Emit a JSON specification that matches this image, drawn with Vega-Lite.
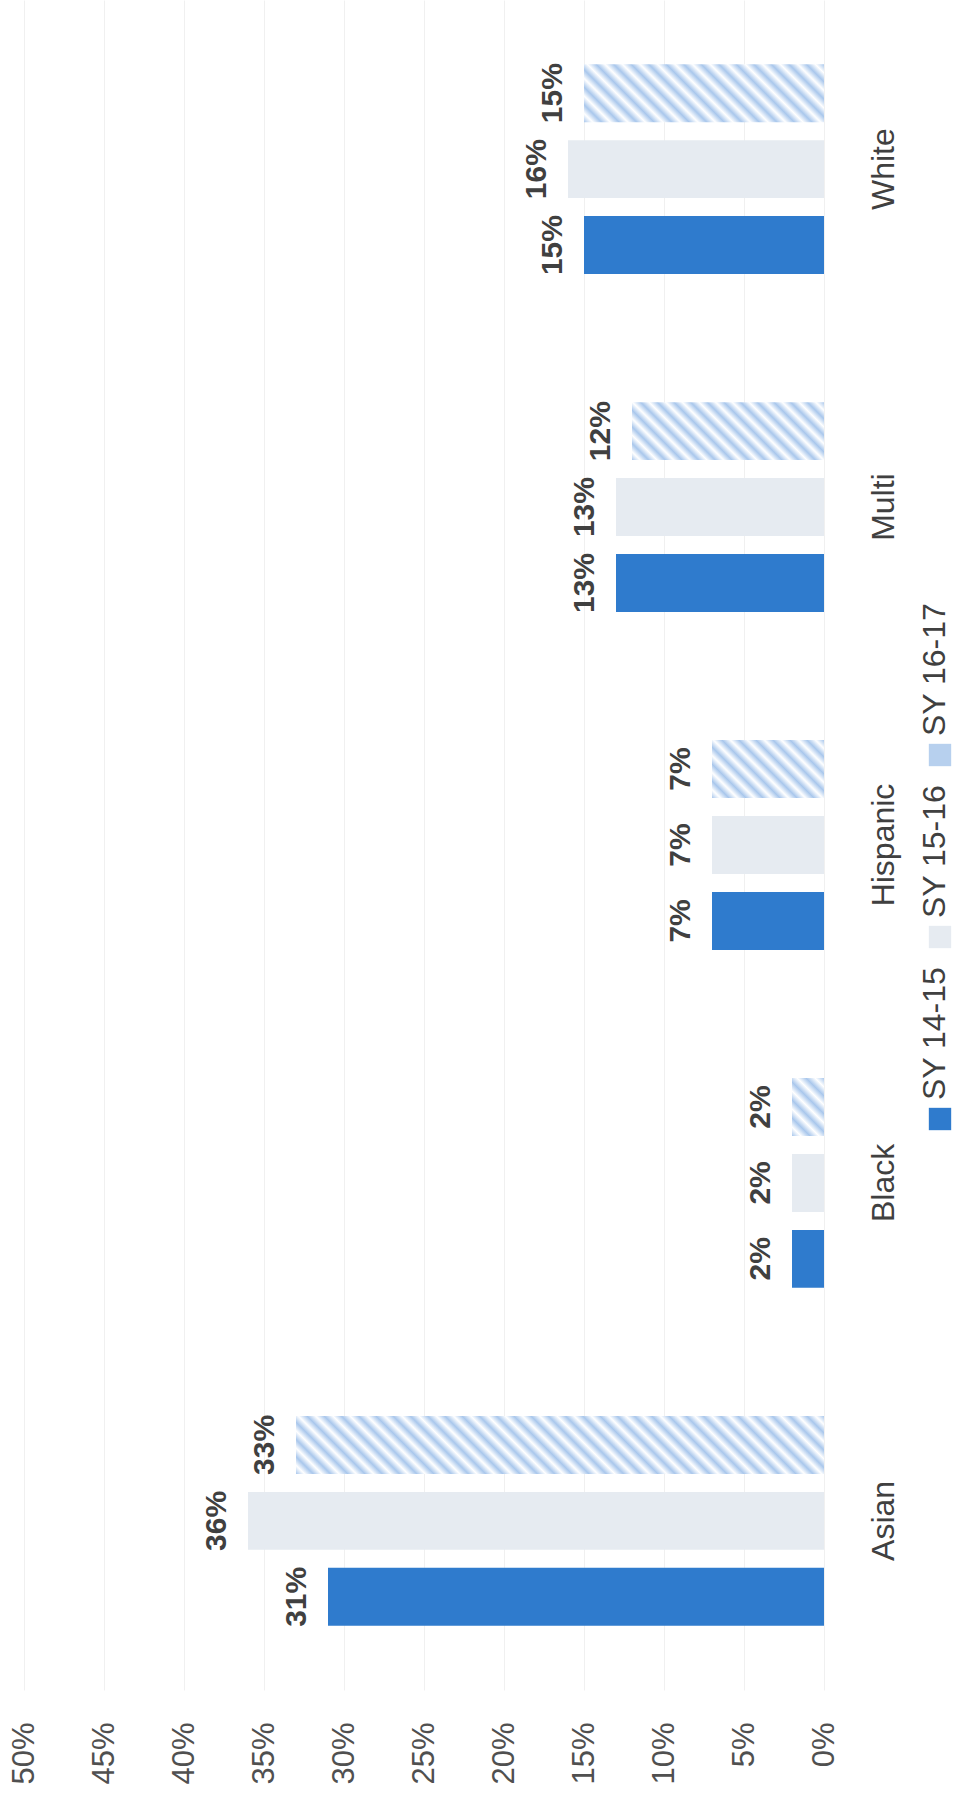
{
  "$schema": "https://vega.github.io/schema/vega-lite/v6.json",
  "width": 800,
  "height": 1690,
  "autosize": "none",
  "padding": {"left": 24, "top": 0, "right": 140, "bottom": 117},
  "background": "white",
  "config": {"view": {"stroke": null}, "font": "Liberation Sans"},
  "data": {
    "values": [
      {"group": "Asian", "series": "SY 14-15", "value": 0.31},
      {"group": "Asian", "series": "SY 15-16", "value": 0.36},
      {"group": "Asian", "series": "SY 16-17", "value": 0.33},
      {"group": "Black", "series": "SY 14-15", "value": 0.02},
      {"group": "Black", "series": "SY 15-16", "value": 0.02},
      {"group": "Black", "series": "SY 16-17", "value": 0.02},
      {"group": "Hispanic", "series": "SY 14-15", "value": 0.07},
      {"group": "Hispanic", "series": "SY 15-16", "value": 0.07},
      {"group": "Hispanic", "series": "SY 16-17", "value": 0.07},
      {"group": "Multi", "series": "SY 14-15", "value": 0.13},
      {"group": "Multi", "series": "SY 15-16", "value": 0.13},
      {"group": "Multi", "series": "SY 16-17", "value": 0.12},
      {"group": "White", "series": "SY 14-15", "value": 0.15},
      {"group": "White", "series": "SY 15-16", "value": 0.16},
      {"group": "White", "series": "SY 16-17", "value": 0.15}
    ]
  },
  "encoding": {
    "y": {
      "field": "group",
      "type": "nominal",
      "sort": ["White", "Multi", "Hispanic", "Black", "Asian"],
      "scale": {"paddingInner": 0.379, "paddingOuter": 0.19},
      "axis": {
        "orient": "right",
        "title": null,
        "domain": false,
        "ticks": false,
        "tickSize": 0,
        "grid": false,
        "labelAngle": 270,
        "labelAlign": "center",
        "labelBaseline": "alphabetic",
        "labelPadding": 69,
        "labelFont": "Liberation Sans",
        "labelFontSize": 32,
        "labelColor": "#404040"
      }
    },
    "yOffset": {
      "field": "series",
      "type": "nominal",
      "sort": ["SY 16-17", "SY 15-16", "SY 14-15"],
      "scale": {"paddingInner": 0.237, "paddingOuter": 0}
    },
    "x": {
      "field": "value",
      "type": "quantitative",
      "scale": {"domain": [0, 0.5], "reverse": true},
      "axis": {
        "title": null,
        "values": [0, 0.05, 0.1, 0.15, 0.2, 0.25, 0.3, 0.35, 0.4, 0.45, 0.5],
        "format": ".0%",
        "domain": false,
        "ticks": false,
        "tickSize": 0,
        "grid": true,
        "gridColor": "#F0F0F0",
        "gridWidth": 1,
        "labelAngle": 270,
        "labelAlign": "right",
        "labelBaseline": "middle",
        "labelPadding": 32,
        "labelFont": "Liberation Sans",
        "labelFontSize": 31,
        "labelColor": "#505050"
      }
    }
  },
  "layer": [
    {
      "mark": {"type": "bar"},
      "encoding": {
        "fill": {
          "field": "series",
          "type": "nominal",
          "scale": {
            "domain": ["SY 16-17", "SY 15-16", "SY 14-15"],
            "range": ["#B7D0EE", "#E6EBF1", "#2F7BCD"]
          },
          "legend": {
            "orient": "none",
            "legendX": 900,
            "legendY": 739,
            "direction": "vertical",
            "title": null,
            "symbolType": "square",
            "symbolSize": 500,
            "symbolStrokeWidth": 0,
            "labelFont": "Liberation Sans",
            "labelFontSize": 32,
            "labelColor": "#404040",
            "labelOffset": 0,
            "labelLimit": 0,
            "rowPadding": 17,
            "encode": {
              "labels": {
                "update": {
                  "angle": {"value": 270},
                  "align": {"value": "left"},
                  "baseline": {"value": "middle"},
                  "dx": {"value": 19},
                  "dy": {"value": -21}
                }
              }
            }
          },
          "condition": [
            {
              "test": "datum.series === 'SY 16-17' && datum.group === 'Asian'",
              "value": {
                "gradient": "linear", "x1": 0, "y1": 1, "x2": 1.0967, "y2": 0.8795,
                "stops": [
                  {"offset": 0, "color": "#A9C7EC"}, {"offset": 0.0147, "color": "#FFFFFF"},
                  {"offset": 0.0294, "color": "#A9C7EC"}, {"offset": 0.0441, "color": "#FFFFFF"},
                  {"offset": 0.0588, "color": "#A9C7EC"}, {"offset": 0.0735, "color": "#FFFFFF"},
                  {"offset": 0.0882, "color": "#A9C7EC"}, {"offset": 0.1029, "color": "#FFFFFF"},
                  {"offset": 0.1176, "color": "#A9C7EC"}, {"offset": 0.1324, "color": "#FFFFFF"},
                  {"offset": 0.1471, "color": "#A9C7EC"}, {"offset": 0.1618, "color": "#FFFFFF"},
                  {"offset": 0.1765, "color": "#A9C7EC"}, {"offset": 0.1912, "color": "#FFFFFF"},
                  {"offset": 0.2059, "color": "#A9C7EC"}, {"offset": 0.2206, "color": "#FFFFFF"},
                  {"offset": 0.2353, "color": "#A9C7EC"}, {"offset": 0.25, "color": "#FFFFFF"},
                  {"offset": 0.2647, "color": "#A9C7EC"}, {"offset": 0.2794, "color": "#FFFFFF"},
                  {"offset": 0.2941, "color": "#A9C7EC"}, {"offset": 0.3088, "color": "#FFFFFF"},
                  {"offset": 0.3235, "color": "#A9C7EC"}, {"offset": 0.3382, "color": "#FFFFFF"},
                  {"offset": 0.3529, "color": "#A9C7EC"}, {"offset": 0.3676, "color": "#FFFFFF"},
                  {"offset": 0.3824, "color": "#A9C7EC"}, {"offset": 0.3971, "color": "#FFFFFF"},
                  {"offset": 0.4118, "color": "#A9C7EC"}, {"offset": 0.4265, "color": "#FFFFFF"},
                  {"offset": 0.4412, "color": "#A9C7EC"}, {"offset": 0.4559, "color": "#FFFFFF"},
                  {"offset": 0.4706, "color": "#A9C7EC"}, {"offset": 0.4853, "color": "#FFFFFF"},
                  {"offset": 0.5, "color": "#A9C7EC"}, {"offset": 0.5147, "color": "#FFFFFF"},
                  {"offset": 0.5294, "color": "#A9C7EC"}, {"offset": 0.5441, "color": "#FFFFFF"},
                  {"offset": 0.5588, "color": "#A9C7EC"}, {"offset": 0.5735, "color": "#FFFFFF"},
                  {"offset": 0.5882, "color": "#A9C7EC"}, {"offset": 0.6029, "color": "#FFFFFF"},
                  {"offset": 0.6176, "color": "#A9C7EC"}, {"offset": 0.6324, "color": "#FFFFFF"},
                  {"offset": 0.6471, "color": "#A9C7EC"}, {"offset": 0.6618, "color": "#FFFFFF"},
                  {"offset": 0.6765, "color": "#A9C7EC"}, {"offset": 0.6912, "color": "#FFFFFF"},
                  {"offset": 0.7059, "color": "#A9C7EC"}, {"offset": 0.7206, "color": "#FFFFFF"},
                  {"offset": 0.7353, "color": "#A9C7EC"}, {"offset": 0.75, "color": "#FFFFFF"},
                  {"offset": 0.7647, "color": "#A9C7EC"}, {"offset": 0.7794, "color": "#FFFFFF"},
                  {"offset": 0.7941, "color": "#A9C7EC"}, {"offset": 0.8088, "color": "#FFFFFF"},
                  {"offset": 0.8235, "color": "#A9C7EC"}, {"offset": 0.8382, "color": "#FFFFFF"},
                  {"offset": 0.8529, "color": "#A9C7EC"}, {"offset": 0.8676, "color": "#FFFFFF"},
                  {"offset": 0.8824, "color": "#A9C7EC"}, {"offset": 0.8971, "color": "#FFFFFF"},
                  {"offset": 0.9118, "color": "#A9C7EC"}, {"offset": 0.9265, "color": "#FFFFFF"},
                  {"offset": 0.9412, "color": "#A9C7EC"}, {"offset": 0.9559, "color": "#FFFFFF"},
                  {"offset": 0.9706, "color": "#A9C7EC"}, {"offset": 0.9853, "color": "#FFFFFF"},
                  {"offset": 1, "color": "#A9C7EC"}
                ]
              }
            },
            {
              "test": "datum.series === 'SY 16-17' && datum.group === 'White'",
              "value": {
                "gradient": "linear", "x1": 0, "y1": 1, "x2": 1.173, "y2": 0.7166,
                "stops": [
                  {"offset": 0, "color": "#A9C7EC"}, {"offset": 0.0294, "color": "#FFFFFF"},
                  {"offset": 0.0588, "color": "#A9C7EC"}, {"offset": 0.0882, "color": "#FFFFFF"},
                  {"offset": 0.1176, "color": "#A9C7EC"}, {"offset": 0.1471, "color": "#FFFFFF"},
                  {"offset": 0.1765, "color": "#A9C7EC"}, {"offset": 0.2059, "color": "#FFFFFF"},
                  {"offset": 0.2353, "color": "#A9C7EC"}, {"offset": 0.2647, "color": "#FFFFFF"},
                  {"offset": 0.2941, "color": "#A9C7EC"}, {"offset": 0.3235, "color": "#FFFFFF"},
                  {"offset": 0.3529, "color": "#A9C7EC"}, {"offset": 0.3824, "color": "#FFFFFF"},
                  {"offset": 0.4118, "color": "#A9C7EC"}, {"offset": 0.4412, "color": "#FFFFFF"},
                  {"offset": 0.4706, "color": "#A9C7EC"}, {"offset": 0.5, "color": "#FFFFFF"},
                  {"offset": 0.5294, "color": "#A9C7EC"}, {"offset": 0.5588, "color": "#FFFFFF"},
                  {"offset": 0.5882, "color": "#A9C7EC"}, {"offset": 0.6176, "color": "#FFFFFF"},
                  {"offset": 0.6471, "color": "#A9C7EC"}, {"offset": 0.6765, "color": "#FFFFFF"},
                  {"offset": 0.7059, "color": "#A9C7EC"}, {"offset": 0.7353, "color": "#FFFFFF"},
                  {"offset": 0.7647, "color": "#A9C7EC"}, {"offset": 0.7941, "color": "#FFFFFF"},
                  {"offset": 0.8235, "color": "#A9C7EC"}, {"offset": 0.8529, "color": "#FFFFFF"},
                  {"offset": 0.8824, "color": "#A9C7EC"}, {"offset": 0.9118, "color": "#FFFFFF"},
                  {"offset": 0.9412, "color": "#A9C7EC"}, {"offset": 0.9706, "color": "#FFFFFF"},
                  {"offset": 1, "color": "#A9C7EC"}
                ]
              }
            },
            {
              "test": "datum.series === 'SY 16-17' && datum.group === 'Multi'",
              "value": {
                "gradient": "linear", "x1": 0, "y1": 1, "x2": 1.1933, "y2": 0.6395,
                "stops": [
                  {"offset": 0, "color": "#A9C7EC"}, {"offset": 0.0333, "color": "#FFFFFF"},
                  {"offset": 0.0667, "color": "#A9C7EC"}, {"offset": 0.1, "color": "#FFFFFF"},
                  {"offset": 0.1333, "color": "#A9C7EC"}, {"offset": 0.1667, "color": "#FFFFFF"},
                  {"offset": 0.2, "color": "#A9C7EC"}, {"offset": 0.2333, "color": "#FFFFFF"},
                  {"offset": 0.2667, "color": "#A9C7EC"}, {"offset": 0.3, "color": "#FFFFFF"},
                  {"offset": 0.3333, "color": "#A9C7EC"}, {"offset": 0.3667, "color": "#FFFFFF"},
                  {"offset": 0.4, "color": "#A9C7EC"}, {"offset": 0.4333, "color": "#FFFFFF"},
                  {"offset": 0.4667, "color": "#A9C7EC"}, {"offset": 0.5, "color": "#FFFFFF"},
                  {"offset": 0.5333, "color": "#A9C7EC"}, {"offset": 0.5667, "color": "#FFFFFF"},
                  {"offset": 0.6, "color": "#A9C7EC"}, {"offset": 0.6333, "color": "#FFFFFF"},
                  {"offset": 0.6667, "color": "#A9C7EC"}, {"offset": 0.7, "color": "#FFFFFF"},
                  {"offset": 0.7333, "color": "#A9C7EC"}, {"offset": 0.7667, "color": "#FFFFFF"},
                  {"offset": 0.8, "color": "#A9C7EC"}, {"offset": 0.8333, "color": "#FFFFFF"},
                  {"offset": 0.8667, "color": "#A9C7EC"}, {"offset": 0.9, "color": "#FFFFFF"},
                  {"offset": 0.9333, "color": "#A9C7EC"}, {"offset": 0.9667, "color": "#FFFFFF"},
                  {"offset": 1, "color": "#A9C7EC"}
                ]
              }
            },
            {
              "test": "datum.series === 'SY 16-17' && datum.group === 'Hispanic'",
              "value": {
                "gradient": "linear", "x1": 0, "y1": 1, "x2": 1.197, "y2": 0.3801,
                "stops": [
                  {"offset": 0, "color": "#A9C7EC"}, {"offset": 0.05, "color": "#FFFFFF"},
                  {"offset": 0.1, "color": "#A9C7EC"}, {"offset": 0.15, "color": "#FFFFFF"},
                  {"offset": 0.2, "color": "#A9C7EC"}, {"offset": 0.25, "color": "#FFFFFF"},
                  {"offset": 0.3, "color": "#A9C7EC"}, {"offset": 0.35, "color": "#FFFFFF"},
                  {"offset": 0.4, "color": "#A9C7EC"}, {"offset": 0.45, "color": "#FFFFFF"},
                  {"offset": 0.5, "color": "#A9C7EC"}, {"offset": 0.55, "color": "#FFFFFF"},
                  {"offset": 0.6, "color": "#A9C7EC"}, {"offset": 0.65, "color": "#FFFFFF"},
                  {"offset": 0.7, "color": "#A9C7EC"}, {"offset": 0.75, "color": "#FFFFFF"},
                  {"offset": 0.8, "color": "#A9C7EC"}, {"offset": 0.85, "color": "#FFFFFF"},
                  {"offset": 0.9, "color": "#A9C7EC"}, {"offset": 0.95, "color": "#FFFFFF"},
                  {"offset": 1, "color": "#A9C7EC"}
                ]
              }
            },
            {
              "test": "datum.series === 'SY 16-17' && datum.group === 'Black'",
              "value": {
                "gradient": "linear", "x1": 0, "y1": 1, "x2": 0.6564, "y2": -0.1896,
                "stops": [
                  {"offset": 0, "color": "#A9C7EC"}, {"offset": 0.1, "color": "#FFFFFF"},
                  {"offset": 0.2, "color": "#A9C7EC"}, {"offset": 0.3, "color": "#FFFFFF"},
                  {"offset": 0.4, "color": "#A9C7EC"}, {"offset": 0.5, "color": "#FFFFFF"},
                  {"offset": 0.6, "color": "#A9C7EC"}, {"offset": 0.7, "color": "#FFFFFF"},
                  {"offset": 0.8, "color": "#A9C7EC"}, {"offset": 0.9, "color": "#FFFFFF"},
                  {"offset": 1, "color": "#A9C7EC"}
                ]
              }
            }
          ]
        }
      }
    },
    {
      "mark": {
        "type": "text",
        "angle": 270,
        "align": "center",
        "baseline": "alphabetic",
        "dy": -22,
        "font": "Liberation Sans",
        "fontWeight": "bold",
        "fontSize": 30,
        "color": "#404040"
      },
      "encoding": {
        "text": {"field": "value", "type": "quantitative", "format": ".0%"}
      }
    }
  ]
}
